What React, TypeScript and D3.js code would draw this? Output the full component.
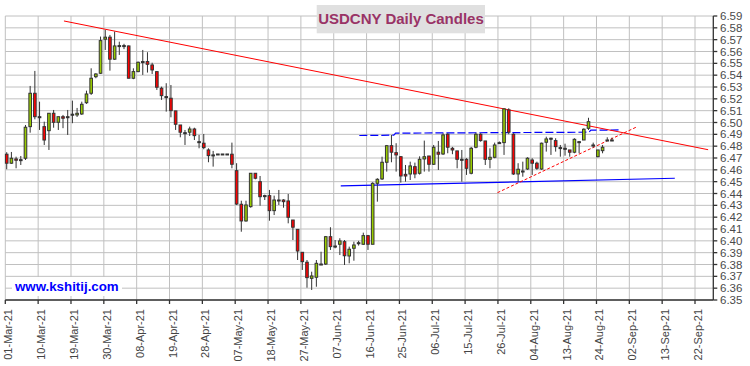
import React from "react";
import * as d3 from "d3";

// ---- data ----
const opens = [
  6.4732, 6.4656, 6.4692, 6.4686, 6.4698, 6.4965, 6.5247, 6.5049, 6.4965, 6.4931,
  6.5078, 6.5002, 6.5049, 6.5049, 6.5070, 6.5064, 6.5072, 6.5167, 6.5247, 6.5387,
  6.5416, 6.5704, 6.5721, 6.5535, 6.5650, 6.5650, 6.5647, 6.5374, 6.5430, 6.5515,
  6.5515, 6.5486, 6.5430, 6.5290, 6.5219, 6.5205, 6.5098, 6.4979, 6.4914, 6.4918,
  6.4945, 6.4838, 6.4825, 6.4768, 6.4726, 6.4734, 6.4734, 6.4734, 6.4732, 6.4593,
  6.4309, 6.4168, 6.4289, 6.4571, 6.4500, 6.4382, 6.4382, 6.4255, 6.4345, 6.4345,
  6.4337, 6.4176, 6.4097, 6.3903, 6.3819, 6.3683, 6.3692, 6.3804, 6.3804, 6.4035,
  6.3956, 6.3971, 6.3993, 6.3872, 6.3937, 6.3984, 6.3971, 6.4044, 6.3971, 6.4486,
  6.4523, 6.4664, 6.4804, 6.4745, 6.4711, 6.4562, 6.4565, 6.4627, 6.4571, 6.4692,
  6.4717, 6.4647, 6.4749, 6.4734, 6.4901, 6.4782, 6.4760, 6.4689, 6.4689, 6.4571,
  6.4791, 6.4901, 6.4844, 6.4689, 6.4706, 6.4830, 6.4830, 6.5106, 6.4901, 6.4565,
  6.4590, 6.4607, 6.4683, 6.4656, 6.4607, 6.4833, 6.4867, 6.4847, 6.4788, 6.4782,
  6.4768, 6.4749, 6.4838, 6.4852, 6.4951, 6.4810, 6.4711, 6.4762, 6.4852, 6.4852,
];
const highs = [
  6.4749, 6.4751, 6.4711, 6.4717, 6.4979, 6.5309, 6.5436, 6.5176, 6.5007, 6.5078,
  6.5106, 6.5049, 6.5064, 6.5106, 6.5185, 6.5123, 6.5176, 6.5269, 6.5458, 6.5416,
  6.5726, 6.5782, 6.5740, 6.5768, 6.5683, 6.5665, 6.5650, 6.5458, 6.5515, 6.5613,
  6.5594, 6.5505, 6.5430, 6.5303, 6.5332, 6.5317, 6.5098, 6.4979, 6.4937, 6.4965,
  6.4956, 6.4895, 6.4903, 6.4782, 6.4760, 6.4734, 6.4734, 6.4734, 6.4830, 6.4656,
  6.4339, 6.4339, 6.4571, 6.4571, 6.4548, 6.4390, 6.4430, 6.4382, 6.4430, 6.4352,
  6.4396, 6.4176, 6.4097, 6.3903, 6.3838, 6.3739, 6.3838, 6.3908, 6.4041, 6.4115,
  6.4007, 6.4022, 6.4007, 6.3951, 6.3993, 6.4000, 6.4069, 6.4050, 6.4495, 6.4529,
  6.4711, 6.4810, 6.4895, 6.4825, 6.4717, 6.4641, 6.4669, 6.4661, 6.4714, 6.4847,
  6.4717, 6.4810, 6.4844, 6.4909, 6.4909, 6.4794, 6.4760, 6.4768, 6.4698, 6.4794,
  6.4914, 6.4909, 6.4844, 6.4782, 6.4830, 6.4840, 6.5120, 6.5120, 6.4909, 6.4656,
  6.4669, 6.4706, 6.4698, 6.4669, 6.4830, 6.4880, 6.4872, 6.4867, 6.4810, 6.4821,
  6.4768, 6.4867, 6.4844, 6.4951, 6.5040, 6.4830, 6.4768, 6.4810, 6.4875, 6.4872,
];
const lows = [
  6.4605, 6.4650, 6.4613, 6.4641, 6.4683, 6.4914, 6.5027, 6.4937, 6.4810, 6.4768,
  6.4956, 6.4937, 6.4952, 6.4895, 6.4994, 6.5047, 6.5064, 6.5157, 6.5233, 6.5374,
  6.5410, 6.5613, 6.5438, 6.5529, 6.5571, 6.5620, 6.5374, 6.5366, 6.5425, 6.5402,
  6.5422, 6.5410, 6.5275, 6.5191, 6.5092, 6.5044, 6.4937, 6.4875, 6.4810, 6.4886,
  6.4852, 6.4782, 6.4774, 6.4664, 6.4627, 6.4734, 6.4734, 6.4734, 6.4613, 6.4303,
  6.4077, 6.4162, 6.4280, 6.4520, 6.4297, 6.4345, 6.4170, 6.4218, 6.4303, 6.4280,
  6.4148, 6.4007, 6.3838, 6.3754, 6.3604, 6.3585, 6.3612, 6.3804, 6.3796, 6.3923,
  6.3937, 6.3880, 6.3796, 6.3810, 6.3832, 6.3960, 6.3965, 6.3923, 6.3971, 6.4331,
  6.4514, 6.4585, 6.4664, 6.4585, 6.4492, 6.4500, 6.4514, 6.4529, 6.4560, 6.4585,
  6.4585, 6.4641, 6.4599, 6.4726, 6.4740, 6.4732, 6.4613, 6.4500, 6.4557, 6.4562,
  6.4782, 6.4838, 6.4641, 6.4613, 6.4698, 6.4820, 6.4726, 6.4901, 6.4557, 6.4500,
  6.4542, 6.4600, 6.4557, 6.4600, 6.4600, 6.4754, 6.4726, 6.4754, 6.4711, 6.4720,
  6.4711, 6.4740, 6.4740, 6.4852, 6.4937, 6.4788, 6.4706, 6.4740, 6.4852, 6.4852,
];
const closes = [
  6.4656, 6.4698, 6.4681, 6.4686, 6.4960, 6.5247, 6.5049, 6.5049, 6.4852, 6.5078,
  6.5002, 6.5049, 6.5036, 6.5049, 6.5070, 6.5078, 6.5154, 6.5241, 6.5374, 6.5410,
  6.5692, 6.5721, 6.5535, 6.5647, 6.5650, 6.5650, 6.5374, 6.5430, 6.5509, 6.5515,
  6.5492, 6.5444, 6.5298, 6.5227, 6.5219, 6.5100, 6.4985, 6.4918, 6.4914, 6.4945,
  6.4889, 6.4838, 6.4788, 6.4720, 6.4726, 6.4734, 6.4734, 6.4734, 6.4647, 6.4311,
  6.4168, 6.4303, 6.4571, 6.4529, 6.4373, 6.4382, 6.4255, 6.4345, 6.4345, 6.4331,
  6.4199, 6.4115, 6.3914, 6.3824, 6.3689, 6.3703, 6.3810, 6.3804, 6.4035, 6.3951,
  6.3956, 6.3999, 6.3874, 6.3929, 6.3965, 6.3984, 6.4044, 6.3971, 6.4486, 6.4520,
  6.4664, 6.4804, 6.4749, 6.4726, 6.4548, 6.4548, 6.4633, 6.4565, 6.4689, 6.4711,
  6.4647, 6.4791, 6.4732, 6.4895, 6.4791, 6.4768, 6.4689, 6.4689, 6.4613, 6.4782,
  6.4901, 6.4847, 6.4689, 6.4706, 6.4810, 6.4830, 6.5115, 6.4918, 6.4565, 6.4605,
  6.4590, 6.4698, 6.4656, 6.4613, 6.4825, 6.4861, 6.4867, 6.4796, 6.4788, 6.4782,
  6.4749, 6.4858, 6.4838, 6.4943, 6.5007, 6.4810, 6.4768, 6.4791, 6.4852, 6.4852,
];

const xTickLabels = [
  "01-Mar-21", "10-Mar-21", "19-Mar-21", "30-Mar-21", "08-Apr-21", "19-Apr-21",
  "28-Apr-21", "07-May-21", "18-May-21", "27-May-21", "07-Jun-21", "16-Jun-21",
  "25-Jun-21", "06-Jul-21", "15-Jul-21", "26-Jul-21", "04-Aug-21", "13-Aug-21",
  "24-Aug-21", "02-Sep-21", "13-Sep-21", "22-Sep-21",
];
const yTicks = d3.range(0, 25).map((k) => +(6.35 + k * 0.01).toFixed(2));

// trendlines: [barIndex, price]
const resistanceLine: [number, number][] = [[12.5, 6.5858], [149.8, 6.4770]];
const rangeTopLine: [number, number][] = [
  [75.45, 6.4890], [82.8, 6.4893], [83.2, 6.4910], [124.4, 6.4918], [124.8, 6.4935], [131.0, 6.4937],
];
const rangeBottomLine: [number, number][] = [[71.5, 6.4464], [142.7, 6.4529]];
const risingSupportLine: [number, number][] = [[104.9, 6.4407], [134.7, 6.4965]];

const W = 750;
const H = 366;
const FONT = "'Liberation Sans', Arial, sans-serif";

export default function App() {
  const x = d3.scaleLinear().domain([0, 150.9]).range([5.3, 713.3]);
  const y = d3.scaleLinear().domain([6.35, 6.59]).range([300, 16]);
  const left = x(0);
  const right = x(150.9);
  const top = y(6.59);
  const bottom = y(6.35);
  const line = d3
    .line<[number, number]>()
    .x((d) => x(d[0]))
    .y((d) => y(d[1]));

  const candles = opens.map((o, i) => ({ i, o, h: highs[i], l: lows[i], c: closes[i] }));
  const bodyW = 2.6;

  return (
    <svg
      width={W}
      height={H}
      style={{ position: "absolute", left: 0, top: 0, background: "#fff", display: "block" }}
      fontFamily={FONT}
    >
      <rect x={0} y={0} width={W} height={H} fill="#fff" />
      {/* grid */}
      <g stroke="#c0c0c0" strokeWidth={1}>
        {yTicks.map((t) => (
          <line key={"gy" + t} x1={left} x2={right} y1={y(t)} y2={y(t)} />
        ))}
        {xTickLabels.map((lab, k) => (
          <line key={"gx" + lab} x1={x(k * 7)} x2={x(k * 7)} y1={top} y2={bottom} />
        ))}
      </g>

      {/* watermark */}
      <rect x={12} y={277} width={110} height={19} fill="#fff" />
      <text x={15} y={291} fontSize={13.3} fontWeight="bold" fill="#0000ff">
        www.kshitij.com
      </text>

      {/* title */}
      <rect x={316.7} y={5} width={168.3} height={28.3} fill="#e0e0e0" />
      <text x={401} y={24} fontSize={15} fontWeight="bold" fill="#993366" textAnchor="middle">
        USDCNY Daily Candles
      </text>

      {/* trendlines */}
      <path d={line(rangeBottomLine) || ""} fill="none" stroke="#0000ff" strokeWidth={1.2} />
      <path d={line(rangeTopLine) || ""} fill="none" stroke="#0000ff" strokeWidth={1.2} strokeDasharray="8,3" />
      <path d={line(resistanceLine) || ""} fill="none" stroke="#ff0000" strokeWidth={1} />
      <path d={line(risingSupportLine) || ""} fill="none" stroke="#ff0000" strokeWidth={1} strokeDasharray="3,2" />

      {/* candles */}
      <g>
        {candles.map((d) => {
          const cx = x(d.i + 0.3);
          const yTop = y(Math.max(d.o, d.c));
          const yBot = y(Math.min(d.o, d.c));
          const fill = d.c > d.o ? "#99cc00" : d.c < d.o ? "#ff0000" : "#333";
          return (
            <g key={d.i}>
              <line x1={cx} x2={cx} y1={y(d.h)} y2={y(d.l)} stroke="#333" strokeWidth={1} />
              <rect
                x={cx - bodyW / 2}
                y={yTop}
                width={bodyW}
                height={Math.max(yBot - yTop, 1)}
                fill={fill}
                stroke="#333"
                strokeWidth={1}
              />
            </g>
          );
        })}
      </g>

      {/* axes */}
      <g stroke="#333" strokeWidth={1.3}>
        <line x1={left} x2={right} y1={bottom} y2={bottom} />
        <line x1={right} x2={right} y1={top} y2={bottom} />
        {yTicks.map((t) => (
          <line key={"ty" + t} x1={right} x2={right + 4} y1={y(t)} y2={y(t)} />
        ))}
        {xTickLabels.map((lab, k) => (
          <line key={"tx" + lab} x1={x(k * 7)} x2={x(k * 7)} y1={bottom} y2={bottom + 4} />
        ))}
      </g>
      <g fill="#4a4a4a" fontSize={11.5}>
        {yTicks.map((t) => (
          <text key={"ly" + t} x={720} y={y(t)} dominantBaseline="central">
            {d3.format(".2f")(t)}
          </text>
        ))}
      </g>
      <g fill="#444" fontSize={11}>
        {xTickLabels.map((lab, k) => (
          <text
            key={"lx" + lab}
            transform={`translate(${x(k * 7) + 3},309) rotate(-90)`}
            textAnchor="end"
            dominantBaseline="central"
          >
            {lab}
          </text>
        ))}
      </g>
    </svg>
  );
}
